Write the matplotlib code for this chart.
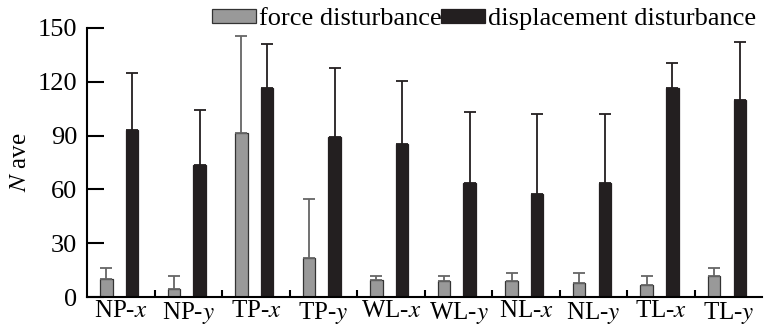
import numpy as np
import matplotlib.pyplot as plt

plt.rcParams['font.family'] = 'Liberation Serif'
plt.rcParams['mathtext.fontset'] = 'stix'

cats = ['NP-$x$', 'NP-$y$', 'TP-$x$', 'TP-$y$', 'WL-$x$',
        'WL-$y$', 'NL-$x$', 'NL-$y$', 'TL-$x$', 'TL-$y$']
force = [10, 4.3, 91.6, 21.9, 9.3, 8.7, 9.1, 8.0, 6.7, 11.5]
force_err = [6, 7.6, 54.1, 32.8, 2.6, 3.2, 4.3, 5.4, 5.2, 4.5]
disp = [93, 73.8, 116.6, 89.1, 85.3, 63.8, 57.4, 63.4, 116.6, 109.9]
disp_err = [31.8, 30.7, 24.7, 38.8, 35.2, 39.6, 44.8, 38.8, 14.1, 32.3]

x = np.arange(len(cats))
w = 0.185
fs = 19

fig = plt.figure(figsize=(7.64, 3.25), dpi=100)
ax = fig.add_axes([0.114, 0.086, 0.884, 0.828])

ax.bar(x - 0.215, force, w, color='#999999', edgecolor='#333333', linewidth=0.9,
       yerr=[np.zeros(len(x)), force_err],
       error_kw=dict(ecolor='#666666', elinewidth=1.3, capsize=4.5, capthick=1.3),
       label='force disturbance')
ax.bar(x + 0.165, disp, w, color='#231f20', edgecolor='#231f20', linewidth=0.9,
       yerr=[np.zeros(len(x)), disp_err],
       error_kw=dict(ecolor='#231f20', elinewidth=1.3, capsize=4.5, capthick=1.3),
       label='displacement disturbance')

ax.set_xlim(-0.5, 9.5)
ax.set_ylim(0, 150)
ax.set_yticks([0, 30, 60, 90, 120, 150])
ax.set_xticks(x)
ax.set_xticklabels(cats)
ax.set_xticks(np.arange(0.5, 9, 1), minor=True)
ax.tick_params(axis='x', which='major', length=0, labelsize=18, pad=2)
ax.tick_params(axis='x', which='minor', direction='in', length=5, width=1.5)
ax.tick_params(axis='y', direction='in', length=12, width=1.5, labelsize=fs, pad=7)

for s in ['top', 'right']:
    ax.spines[s].set_visible(False)
for s in ['left', 'bottom']:
    ax.spines[s].set_linewidth(1.5)

ax.set_ylabel('$N$ ave', fontsize=18, labelpad=5)

fig.legend(loc='upper left', bbox_to_anchor=(0.278, 0.974), ncol=2, frameon=False,
           fontsize=fs, handlelength=1.65, handleheight=0.4, handletextpad=0.1,
           columnspacing=0.0, borderaxespad=0, borderpad=0)

fig.savefig('out.png', dpi=100)
